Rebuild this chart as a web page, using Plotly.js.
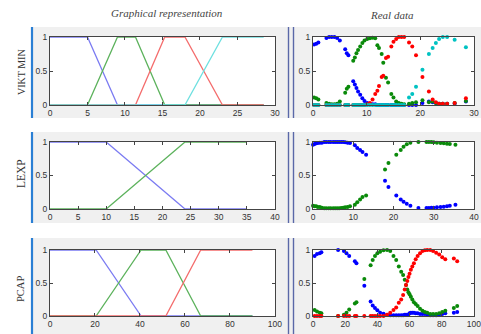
<!DOCTYPE html>
<html><head><meta charset="utf-8">
<script src="https://cdn.plot.ly/plotly-3.0.1.min.js"></script>
<style>html,body{margin:0;padding:0;background:#fff;overflow:hidden;width:481px;height:334px}#c{width:495px;height:334px}</style>
</head><body><div id="c"></div>
<script>
// ---------- Graphical representation (membership functions) ----------
var vmX = [0, 5, 9, 11.4, 15.3, 18, 23, 28.5];
var vmBlue  = [1, 1, 0, 0, 0, 0, 0, 0];
var vmGreen = [0, 0, 1, 1, 0, 0, 0, 0];
var vmRed   = [0, 0, 0, 0, 1, 1, 0, 0];
var vmCyan  = [0, 0, 0, 0, 0, 0, 1, 1];

var lxX = [0, 10, 24, 35];
var lxBlue  = [1, 1, 0, 0];
var lxGreen = [0, 0, 1, 1];

var pcX = [0, 20.5, 40.5, 51.5, 67, 90];
var pcBlue  = [1, 1, 0, 0, 0, 0];
var pcGreen = [0, 0, 1, 1, 0, 0];
var pcRed   = [0, 0, 0, 0, 1, 1];

// ---------- Real data ----------
var rvX = [0.2,0.6,1.0, 2.5,3.0,3.5,4.0,4.5,5.0, 6.0,6.3,6.6, 7.5,7.8,8.1,8.4,8.8,9.2,9.6,10.1,10.6,11.1,11.6, 12.0,12.3,12.8,13.1, 13.6,14.0, 14.6,15.0,15.5,16.0,16.5,17.0, 17.9,18.5,19.2, 20.4, 21.6,22.3,22.9,23.5,24.2,25.0, 26.4,28.5];
var rvBlue  = [0.89,0.90,0.92, 0.985,1,1,1,0.985,0.95, 0.82,0.76,0.73, 0.35,0.30,0.25,0.20,0.15,0.10,0.06,0.03,0.02,0.01,0.01, 0,0,0,0, 0,0, 0,0,0,0,0,0, 0,0,0, 0.03, 0.05,0.04,0.03,0.02,0.02,0.02, 0.02,0.05];
var rvGreen = [0.11,0.10,0.08, 0.03,0.02,0.01,0.01,0.02,0.05, 0.18,0.24,0.27, 0.65,0.70,0.76,0.81,0.86,0.91,0.95,0.97,0.98,0.99,0.98, 0.88,0.84,0.75,0.62, 0.40,0.33, 0.16,0.11, 0.05,0.03,0.02,0.01, 0.02,0.03,0.04, 0.07, 0.04,0.05,0.03,0.02,0.02,0.02, 0.03,0.06];
var rvRed   = [0,0,0, 0,0,0,0,0,0, 0,0,0, 0,0,0,0,0,0,0,0.01,0.03,0.08,0.16, 0.21,0.28,0.41,0.43, 0.69,0.71, 0.86,0.93,0.97,1,1,1, 0.92,0.86,0.73, 0.41, 0.20,0.08,0.04,0.02,0.02,0.02, 0.03,0.10];
var rvCyan  = [0,0,0, 0,0,0,0,0,0, 0,0,0, 0,0,0,0,0,0,0,0,0,0,0, 0,0,0,0, 0,0, 0,0,0,0,0,0, 0.11,0.16,0.27, 0.52, 0.75,0.84,0.91,0.97,1,1, 0.96,0.85];

var rlX = [0,0.4,0.8,1.2,1.7,2.2,2.8,3.3,3.9,4.4,5.0,5.5,6.0,6.5,7.0,7.5,8.0,8.6,9.2, 10.4,11.0,11.7,12.3,13.2, 17.9,18.75, 20.7,21.8,22.5,23.3,24.2, 26.2,28.2,28.8,29.4,30.0,30.8,31.7,32.5,33.3,34.0,35.4];
var rlBlue  = [0.96,0.97,0.98,0.985,0.99,0.99,1,1,1,1,1,1,1,1,1,1,0.995,0.99,0.985, 0.95,0.91,0.88,0.85,0.81, 0.42,0.33, 0.20,0.14,0.11,0.08,0.05, 0.015,0.015,0.015,0.02,0.02,0.025,0.03,0.035,0.04,0.05,0.065];
var rlGreen = [0.05,0.04,0.04,0.03,0.03,0.02,0.01,0.01,0.01,0.01,0.01,0.01,0.01,0.01,0.015,0.02,0.025,0.03,0.04, 0.065,0.10,0.14,0.18,0.20, 0.59,0.685, 0.81,0.88,0.93,0.965,0.99, 1,1,1,1,0.995,0.99,0.985,0.98,0.975,0.97,0.96];

var rpX = [1.0,2.5,4.2,5.2, 15.6,19.2,20.8,22.5,26.0,27.0, 31.9, 35.8,37.1,38.5,40.0,41.7,43.8, 46,48,50,51.7,53.3,54.8,56,57,57.8,58.6,59.3,60,60.8,61.7,62.7,63.8,65,66.5,68,69.5,71,72.8,74.6,76.5,78.4,80.3,82.2,87.5,89.6];
var rpBlue  = [0.91,0.94,0.95,0.965, 1,0.985,0.95,0.91,0.83,0.80, 0.46, 0.22,0.16,0.12,0.086,0.05,0.035, 0.02,0.01,0.01,0.01,0.01,0.01,0.01,0.02,0.02,0.02,0.02,0.04,0.05,0.05,0.05,0.04,0.04,0.03,0.03,0.03,0.02,0.01,0.01,0.01,0.02,0.03,0.04,0.05,0.06];
var rpGreen = [0.09,0.07,0.05,0.04, 0,0.02,0.05,0.10,0.19,0.21, 0.56, 0.77,0.85,0.91,0.95,0.975,0.995, 1.0,0.985,0.91,0.85,0.75,0.67,0.62,0.55,0.47,0.40,0.36,0.33,0.29,0.25,0.21,0.18,0.15,0.11,0.08,0.06,0.05,0.03,0.03,0.03,0.04,0.06,0.08,0.12,0.15];
var rpRed   = [0,0,0,0, 0,0,0,0,0,0, 0, 0,0,0,0,0,0, 0.02,0.05,0.09,0.13,0.20,0.25,0.32,0.40,0.47,0.53,0.59,0.64,0.70,0.75,0.80,0.86,0.91,0.95,0.985,0.995,1,1,0.985,0.96,0.93,0.89,0.86,0.87,0.83];

var colTitles = ['Graphical representation', 'Real data'];
var rowLabels = ['VIKT MIN', 'LEXP', 'PCAP'];

// ---------- styling ----------
// The figure is laid out slightly wider than the window, so the last tick label is cut at the edge as in the original.
var W = 495, H = 334;
function PX(p){return p / W;}
function PY(p){return 1 - p / H;}
var lineCol = {b:'#7b7bf2', g:'#5cb25c', r:'#f46c6c', c:'#6ee0e0'};
var dotCol  = {b:'#0000ff', g:'#0a8a0a', r:'#ff0000', c:'#00c2c2'};

var traces = [];
function lineT(x, y, c, ax){
  traces.push({type:'scatter', mode:'lines', x:x, y:y, xaxis:'x'+ax, yaxis:'y'+ax,
    line:{color:c, width:1.3}, hoverinfo:'skip'});
}
function dotT(x, y, c, ax){
  traces.push({type:'scatter', mode:'markers', x:x, y:y, xaxis:'x'+ax, yaxis:'y'+ax,
    marker:{color:c, size:4, line:{width:0}}, hoverinfo:'skip', cliponaxis:false});
}
lineT(vmX, vmBlue, lineCol.b, ''); lineT(vmX, vmGreen, lineCol.g, ''); lineT(vmX, vmRed, lineCol.r, ''); lineT(vmX, vmCyan, lineCol.c, '');
dotT(rvX, rvBlue, dotCol.b, '2'); dotT(rvX, rvGreen, dotCol.g, '2'); dotT(rvX, rvRed, dotCol.r, '2'); dotT(rvX, rvCyan, dotCol.c, '2');
lineT(lxX, lxBlue, lineCol.b, '3'); lineT(lxX, lxGreen, lineCol.g, '3');
dotT(rlX, rlBlue, dotCol.b, '4'); dotT(rlX, rlGreen, dotCol.g, '4');
lineT(pcX, pcBlue, lineCol.b, '5'); lineT(pcX, pcGreen, lineCol.g, '5'); lineT(pcX, pcRed, lineCol.r, '5');
dotT(rpX, rpBlue, dotCol.b, '6'); dotT(rpX, rpGreen, dotCol.g, '6'); dotT(rpX, rpRed, dotCol.r, '6');

var tickFont = {family:'Liberation Sans, Arial, sans-serif', size:8.5, color:'#333'};
function xa(dom, max, dt, anchor){
  var tv=[]; for (var v=0; v<=max+1e-9; v+=dt) tv.push(v);
  return {domain:dom, range:[0,max*1.0003], anchor:anchor, tickvals:tv, ticks:'inside', ticklen:3,
    tickcolor:'#444', showline:true, linecolor:'#444', linewidth:1, mirror:'allticks',
    showgrid:false, zeroline:false, tickfont:tickFont, fixedrange:true, ticklabeloverflow:'allow'};
}
function ya(dom, anchor){
  return {domain:dom, range:[0,1], anchor:anchor, tickvals:[0,0.5,1], ticktext:['0','0.5','1'],
    ticks:'inside', ticklen:3, tickcolor:'#444', showline:true, linecolor:'#444', linewidth:1,
    mirror:'allticks', showgrid:false, zeroline:false, tickfont:tickFont, fixedrange:true};
}
var xL = [PX(50), PX(275)], xR = [PX(313), PX(474)];
var r1 = [PY(105), PY(37)], r2 = [PY(209), PY(142)], r3 = [PY(316), PY(250)];

var shapes = [];
var panels = [[27,118],[132,223],[238,334]];
panels.forEach(function(p){
  shapes.push({type:'rect', xref:'paper', yref:'paper', x0:PX(33), x1:1, y0:PY(p[1]), y1:PY(p[0]),
    fillcolor:'#f0f0f0', line:{width:0}, layer:'below'});
  shapes.push({type:'line', xref:'paper', yref:'paper', x0:PX(32), x1:PX(32), y0:PY(p[1]), y1:PY(p[0]),
    line:{color:'#2a7fd4', width:2.2}, layer:'above'});
  shapes.push({type:'line', xref:'paper', yref:'paper', x0:PX(288.5), x1:PX(288.5), y0:PY(p[1]), y1:PY(p[0]),
    line:{color:'#5a68a8', width:1.4}, layer:'above'});
  shapes.push({type:'line', xref:'paper', yref:'paper', x0:PX(293.5), x1:PX(293.5), y0:PY(p[1]), y1:PY(p[0]),
    line:{color:'#5a68a8', width:1.4}, layer:'above'});
});
['', '2', '3', '4', '5', '6'].forEach(function(a){
  shapes.push({type:'rect', xref:'x'+a+' domain', yref:'y'+a+' domain', x0:0, x1:1, y0:0, y1:1,
    fillcolor:'#ffffff', line:{width:0}, layer:'below'});
});

var serif = 'Liberation Serif, Times New Roman, serif';
var annotations = [
  {text:'<i>'+colTitles[0]+'</i>', x:PX(167), y:PY(13), xref:'paper', yref:'paper', showarrow:false,
   font:{family:serif, size:11, color:'#444'}, xanchor:'center', yanchor:'middle'},
  {text:'<i>'+colTitles[1]+'</i>', x:PX(392), y:PY(15), xref:'paper', yref:'paper', showarrow:false,
   font:{family:serif, size:11, color:'#444'}, xanchor:'center', yanchor:'middle'},
  {text:rowLabels[0], x:PX(21), y:PY(72), xref:'paper', yref:'paper', showarrow:false, textangle:-90,
   font:{family:serif, size:10, color:'#333'}, xanchor:'center', yanchor:'middle'},
  {text:rowLabels[1], x:PX(21), y:PY(174), xref:'paper', yref:'paper', showarrow:false, textangle:-90,
   font:{family:serif, size:11.5, color:'#333'}, xanchor:'center', yanchor:'middle'},
  {text:rowLabels[2], x:PX(20), y:PY(289), xref:'paper', yref:'paper', showarrow:false, textangle:-90,
   font:{family:serif, size:10.5, color:'#333'}, xanchor:'center', yanchor:'middle'}
];

var layout = {
  width:W, height:H, margin:{l:0,r:0,t:0,b:0}, paper_bgcolor:'#ffffff', plot_bgcolor:'#ffffff',
  showlegend:false, shapes:shapes, annotations:annotations,
  xaxis:xa(xL,30,5,'y'),   yaxis:ya(r1,'x'),
  xaxis2:xa(xR,30,10,'y2'), yaxis2:ya(r1,'x2'),
  xaxis3:xa(xL,40,5,'y3'), yaxis3:ya(r2,'x3'),
  xaxis4:xa(xR,40,10,'y4'), yaxis4:ya(r2,'x4'),
  xaxis5:xa(xL,100,20,'y5'), yaxis5:ya(r3,'x5'),
  xaxis6:xa(xR,100,20,'y6'), yaxis6:ya(r3,'x6')
};
Plotly.newPlot('c', traces, layout, {staticPlot:true, displayModeBar:false});
</script></body></html>
